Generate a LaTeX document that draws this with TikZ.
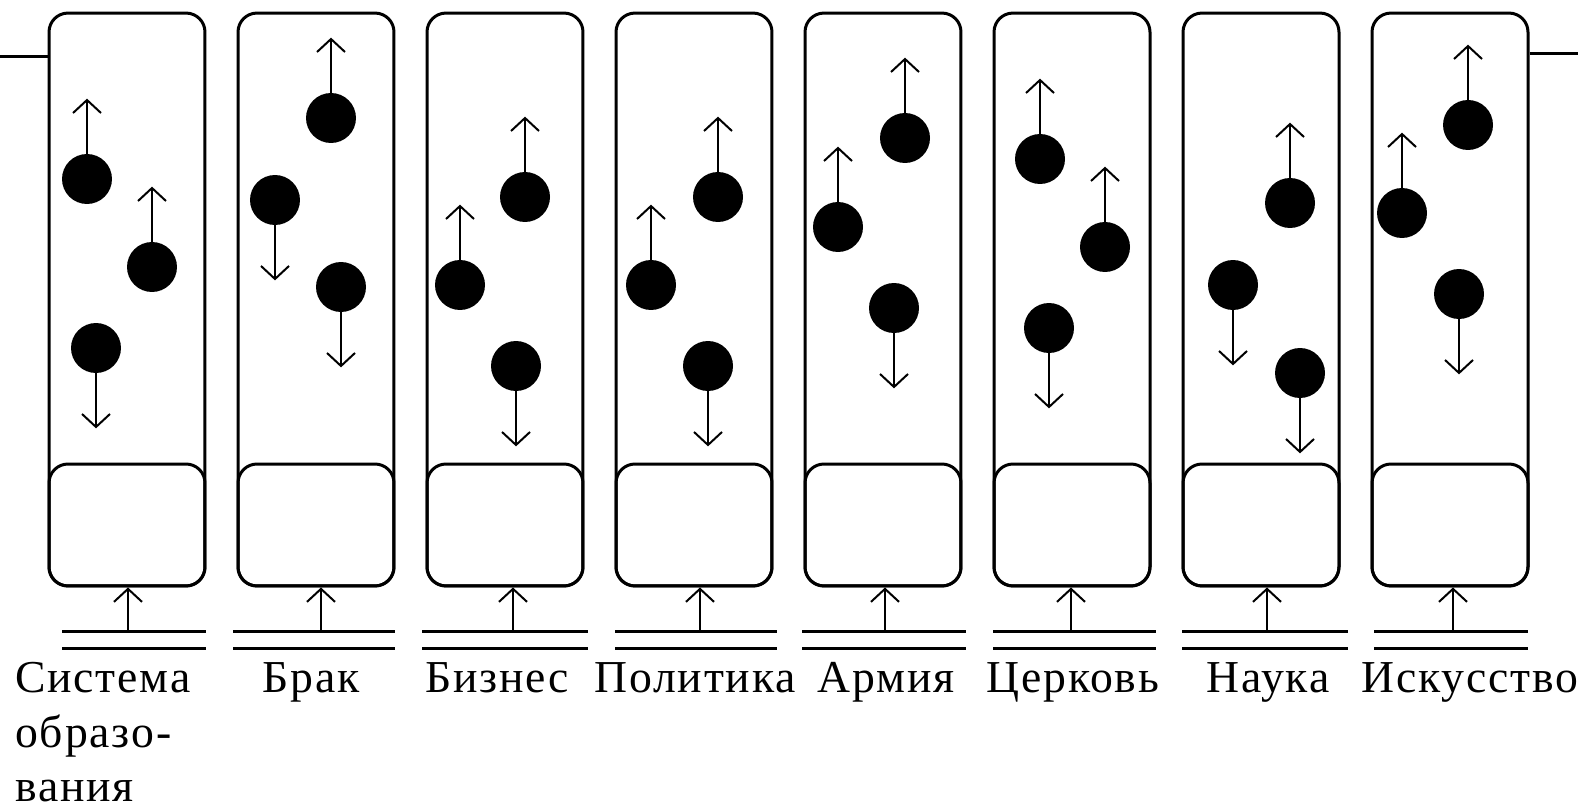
\documentclass[tikz,border=0pt]{standalone}
\usepackage{fontspec}
\setmainfont[LetterSpace=4]{Liberation Serif}
\usetikzlibrary{arrows.meta}

\begin{document}
\begin{tikzpicture}[x=0.02cm,y=-0.02cm,
    pointer/.style={-{Straight Barb[length=0.26cm,width=0.56cm]},line width=0.04cm},
    rail/.style={line width=0.06cm}]

  \useasboundingbox (0,0) rectangle (1578,810);

  % institutions
  \begin{scope}[every node/.style={draw,rounded corners=0.38cm,line width=0.06cm,minimum width=3.12cm,inner sep=0}]
    \node[minimum height=11.46cm] (box1) at (127,299.5)  {};
    \node[minimum height=11.46cm] (box2) at (316,299.5)  {};
    \node[minimum height=11.46cm] (box3) at (505,299.5)  {};
    \node[minimum height=11.46cm] (box4) at (694,299.5)  {};
    \node[minimum height=11.46cm] (box5) at (883,299.5)  {};
    \node[minimum height=11.46cm] (box6) at (1072,299.5) {};
    \node[minimum height=11.46cm] (box7) at (1261,299.5) {};
    \node[minimum height=11.46cm] (box8) at (1450,299.5) {};
    \node[minimum height=2.44cm] (in1) at (127,525)  {};
    \node[minimum height=2.44cm] (in2) at (316,525)  {};
    \node[minimum height=2.44cm] (in3) at (505,525)  {};
    \node[minimum height=2.44cm] (in4) at (694,525)  {};
    \node[minimum height=2.44cm] (in5) at (883,525)  {};
    \node[minimum height=2.44cm] (in6) at (1072,525) {};
    \node[minimum height=2.44cm] (in7) at (1261,525) {};
    \node[minimum height=2.44cm] (in8) at (1450,525) {};
  \end{scope}

  \coordinate (inlet)  at (0,57);
  \coordinate (outlet) at (1578,54);
  \draw[rail] (inlet) -- (inlet -| box1.west);
  \draw[rail] (outlet -| box8.east) -- (outlet);

  % individuals
  \begin{scope}[every node/.style={circle,fill,minimum size=1cm,inner sep=0}]
    \node (11) at (87,179)   {};
    \node (12) at (152,267)  {};
    \node (13) at (96,348)   {};
    \node (21) at (331,118)  {};
    \node (22) at (275,200)  {};
    \node (23) at (341,287)  {};
    \node (31) at (525,197)  {};
    \node (32) at (460,285)  {};
    \node (33) at (516,366)  {};
    \node (41) at (718,197)  {};
    \node (42) at (651,285)  {};
    \node (43) at (708,366)  {};
    \node (51) at (905,138)  {};
    \node (52) at (838,227)  {};
    \node (53) at (894,308)  {};
    \node (61) at (1040,159) {};
    \node (62) at (1105,247) {};
    \node (63) at (1049,328) {};
    \node (71) at (1290,203) {};
    \node (72) at (1233,285) {};
    \node (73) at (1300,373) {};
    \node (81) at (1468,125) {};
    \node (82) at (1402,213) {};
    \node (83) at (1459,294) {};
  \end{scope}

  \begin{scope}[every path/.style={pointer}]
    \draw (11.north) -- ++(0,-55);
    \draw (12.north) -- ++(0,-55);
    \draw (13.south) -- ++(0,55);
    \draw (21.north) -- ++(0,-55);
    \draw (22.south) -- ++(0,55);
    \draw (23.south) -- ++(0,55);
    \draw (31.north) -- ++(0,-55);
    \draw (32.north) -- ++(0,-55);
    \draw (33.south) -- ++(0,55);
    \draw (41.north) -- ++(0,-55);
    \draw (42.north) -- ++(0,-55);
    \draw (43.south) -- ++(0,55);
    \draw (51.north) -- ++(0,-55);
    \draw (52.north) -- ++(0,-55);
    \draw (53.south) -- ++(0,55);
    \draw (61.north) -- ++(0,-55);
    \draw (62.north) -- ++(0,-55);
    \draw (63.south) -- ++(0,55);
    \draw (71.north) -- ++(0,-55);
    \draw (72.south) -- ++(0,55);
    \draw (73.south) -- ++(0,55);
    \draw (81.north) -- ++(0,-55);
    \draw (82.north) -- ++(0,-55);
    \draw (83.south) -- ++(0,55);
  \end{scope}

  % inputs
  \coordinate (s1) at (128,631);
  \coordinate (s2) at (321,631);
  \coordinate (s3) at (513,631);
  \coordinate (s4) at (700,631);
  \coordinate (s5) at (885,631);
  \coordinate (s6) at (1071,631);
  \coordinate (s7) at (1267,631);
  \coordinate (s8) at (1453,631);
  \draw[rail] (62,631) -- (206,631)   (62,648) -- (206,648);
  \draw[rail] (233,631) -- (395,631)  (233,648) -- (395,648);
  \draw[rail] (422,631) -- (588,631)  (422,648) -- (588,648);
  \draw[rail] (615,631) -- (777,631)  (615,648) -- (777,648);
  \draw[rail] (802,631) -- (966,631)  (802,648) -- (966,648);
  \draw[rail] (993,631) -- (1156,631) (993,648) -- (1156,648);
  \draw[rail] (1182,631) -- (1348,631) (1182,648) -- (1348,648);
  \draw[rail] (1374,631) -- (1528,631) (1374,648) -- (1528,648);
  \draw[pointer] (s1) -- (s1 |- in1.south);
  \draw[pointer] (s2) -- (s2 |- in2.south);
  \draw[pointer] (s3) -- (s3 |- in3.south);
  \draw[pointer] (s4) -- (s4 |- in4.south);
  \draw[pointer] (s5) -- (s5 |- in5.south);
  \draw[pointer] (s6) -- (s6 |- in6.south);
  \draw[pointer] (s7) -- (s7 |- in7.south);
  \draw[pointer] (s8) -- (s8 |- in8.south);

  % names
  \begin{scope}[every node/.style={inner sep=0,font=\fontsize{26}{31}\selectfont}]
    \node[anchor=north west,align=left] (t1) at (15,662) {Система\\образо-\\вания};
    \node[anchor=base] (t2) at (311,692)  {Брак};
    \node[anchor=base] (t3) at (497,692)  {Бизнес};
    \node[anchor=base] (t4) at (695,692)  {Политика};
    \node[anchor=base] (t5) at (886,692)  {Армия};
    \node[anchor=base] (t6) at (1073,692) {Церковь};
    \node[anchor=base] (t7) at (1268,692) {Наука};
    \node[anchor=base] (t8) at (1470,692) {Искусство};
  \end{scope}

\end{tikzpicture}
\end{document}
